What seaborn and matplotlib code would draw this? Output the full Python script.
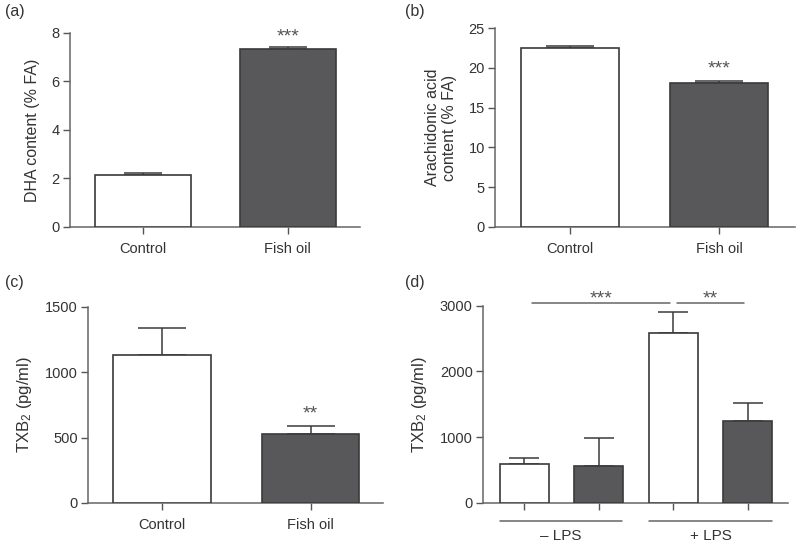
import matplotlib
matplotlib.use("Agg")
import matplotlib.pyplot as plt
import matplotlib.transforms as mtransforms
import seaborn as sns
import numpy as np
import pandas as pd

# ---- data ----
groups_ab = ["Control", "Fish oil"]
dha_mean = [2.15, 7.35]
dha_sem = [0.06, 0.07]
aa_mean = [22.5, 18.1]
aa_sem = [0.25, 0.22]
txb_mean = [1130, 530]
txb_sem = [210, 60]
groups_d = ["Control -LPS", "Fish oil -LPS", "Control +LPS", "Fish oil +LPS"]
txb_lps_mean = [600, 560, 2580, 1240]
txb_lps_sem = [90, 430, 330, 280]
lps_labels = ["\u2013 LPS", "+ LPS"]

sns.set_theme(style="ticks")
plt.rcParams["font.family"] = ["Liberation Sans", "DejaVu Sans"]
plt.rcParams["mathtext.default"] = "regular"
plt.rcParams["text.color"] = "#333333"
plt.rcParams["axes.labelcolor"] = "#333333"
plt.rcParams["xtick.color"] = "#555555"
plt.rcParams["ytick.color"] = "#555555"
plt.rcParams["xtick.labelcolor"] = "#333333"
plt.rcParams["ytick.labelcolor"] = "#333333"

WHITE = "#ffffff"
DARK = "#58585b"
EDGE = "#3a3a3a"
SPINE = "#666666"
STAR = "#555555"

fig = plt.figure(figsize=(8, 5.45), dpi=100)
ax_a = fig.add_axes([0.0875, 0.5835, 0.3625, 0.356])
ax_b = fig.add_axes([0.619, 0.5835, 0.375, 0.365])
ax_c = fig.add_axes([0.11, 0.0771, 0.369, 0.360])
ax_d = fig.add_axes([0.604, 0.0771, 0.381, 0.362])


def draw(ax, cats, means, sems, colors, ylim, yticks, ylabel, capsize, xlim, ylsize=11.5,
         width=0.66, ticklabels=True):
    df = pd.DataFrame({"group": cats, "value": means})
    sns.barplot(data=df, x="group", y="value", hue="group", order=cats, hue_order=cats,
                palette=dict(zip(cats, colors)), width=width, legend=False, ax=ax,
                edgecolor=EDGE, linewidth=1.2, saturation=1, errorbar=None, zorder=3)
    ax.errorbar(np.arange(len(cats)), means, yerr=[np.zeros(len(sems)), sems], fmt="none",
                ecolor=EDGE, elinewidth=1.1, capsize=capsize, capthick=1.1, zorder=2)
    ax.set_ylim(*ylim)
    ax.set_xlim(*xlim)
    ax.set_yticks(yticks)
    ax.set_ylabel(ylabel, fontsize=ylsize, labelpad=8)
    ax.set_xlabel("")
    if not ticklabels:
        ax.set_xticklabels([""] * len(cats))
    ax.tick_params(axis="both", labelsize=10.5, length=5, width=1, direction="out")
    ax.tick_params(axis="x", pad=6)
    ax.tick_params(axis="y", pad=2.5)
    for s in ["top", "right"]:
        ax.spines[s].set_visible(False)
    for s in ["left", "bottom"]:
        ax.spines[s].set_color(SPINE)
        ax.spines[s].set_linewidth(1.1)
    ax.grid(False)


draw(ax_a, groups_ab, dha_mean, dha_sem, [WHITE, DARK], (0, 8), [0, 2, 4, 6, 8],
     "DHA content (% FA)", 14, (-0.503, 1.497), ylsize=11.5)
draw(ax_b, groups_ab, aa_mean, aa_sem, [WHITE, DARK], (0, 25), [0, 5, 10, 15, 20, 25],
     "Arachidonic acid\ncontent (% FA)", 17, (-0.503, 1.51), ylsize=11.5)
draw(ax_c, groups_ab, txb_mean, txb_sem, [WHITE, DARK], (0, 1500), [0, 500, 1000, 1500],
     "TXB$_2$ (pg/ml)", 17, (-0.5, 1.49), ylsize=12)
draw(ax_d, groups_d, txb_lps_mean, txb_lps_sem, [WHITE, DARK, WHITE, DARK], (0, 3000),
     [0, 1000, 2000, 3000], "TXB$_2$ (pg/ml)", 11, (-0.55, 3.54), ylsize=12, ticklabels=False)

# significance stars above bars
ax_a.text(1, 7.85, "***", ha="center", va="center", fontsize=14, color=STAR, clip_on=False)
ax_b.text(1, 19.9, "***", ha="center", va="center", fontsize=14, color=STAR)
ax_c.text(1, 680, "**", ha="center", va="center", fontsize=14, color=STAR)

# panel (d) comparison lines
tr = mtransforms.blended_transform_factory(ax_d.transData, ax_d.transAxes)
ax_d.plot([0.11, 1.95], [1.0137, 1.0137], transform=tr, color=SPINE, lw=1.1, clip_on=False)
ax_d.text(1.03, 1.035, "***", transform=tr, ha="center", va="center", fontsize=14, color=STAR)
ax_d.plot([2.05, 2.95], [1.0137, 1.0137], transform=tr, color=SPINE, lw=1.1, clip_on=False)
ax_d.text(2.5, 1.035, "**", transform=tr, ha="center", va="center", fontsize=14, color=STAR)

# LPS group lines
for (x0, x1), lab in zip([(-0.33, 1.31), (1.67, 3.33)], lps_labels):
    ax_d.plot([x0, x1], [-0.091, -0.091], transform=tr, color=SPINE, lw=1.1, clip_on=False)
    ax_d.text((x0 + x1) / 2, -0.165, lab, transform=tr, ha="center", va="center", fontsize=11)

# panel letters
for x, y, lab in [(0.006, 0.978, "(a)"), (0.506, 0.978, "(b)"), (0.006, 0.481, "(c)"), (0.506, 0.481, "(d)")]:
    fig.text(x, y, lab, ha="left", va="center", fontsize=11.5)

fig.savefig("out.png", dpi=100)
